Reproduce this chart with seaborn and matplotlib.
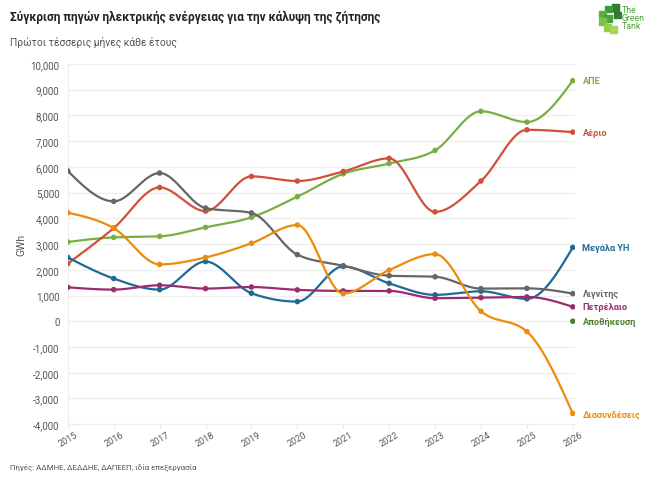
import numpy as np
import pandas as pd
import matplotlib
matplotlib.use("Agg")
import matplotlib.pyplot as plt
import seaborn as sns

years = list(range(2015, 2027))

lignite = [5840, 4660, 5760, 4400, 4210, 2590, 2160, 1770, 1730, 1270, 1280, 1075]
gas = [2240, 3620, 5200, 4280, 5630, 5450, 5820, 6330, 4250, 5450, 7440, 7350]
res = [3080, 3260, 3300, 3650, 4040, 4840, 5730, 6130, 6640, 8160, 7740, 9350]
interconn = [4220, 3620, 2210, 2480, 3030, 3740, 1075, 1990, 2610, 390, -400, -3580]
hydro = [2480, 1660, 1230, 2320, 1090, 765, 2130, 1475, 1025, 1165, 870, 2870]
oil = [1320, 1230, 1400, 1270, 1330, 1220, 1180, 1180, 895, 920, 945, 560]
storage_year = [2026]
storage = [0]

series = [
    ("ΑΠΕ", res, "#76b043"),
    ("Αέριο", gas, "#d2503a"),
    ("Μεγάλα ΥΗ", hydro, "#1d6a98"),
    ("Λιγνίτης", lignite, "#666666"),
    ("Πετρέλαιο", oil, "#9a2d6e"),
    ("Διασυνδέσεις", interconn, "#ec8b0d"),
]
storage_color = "#4d7f2f"


def monotone_curve(x, y, n=30):
    # monotone cubic (like d3.curveMonotoneX), only used to draw the line
    x = np.asarray(x, float)
    y = np.asarray(y, float)
    h = np.diff(x)
    s = np.diff(y) / h
    t = np.zeros(len(x))
    for i in range(1, len(x) - 1):
        p = (s[i - 1] * h[i] + s[i] * h[i - 1]) / (h[i - 1] + h[i])
        t[i] = (np.sign(s[i - 1]) + np.sign(s[i])) * min(abs(s[i - 1]), abs(s[i]), 0.5 * abs(p))
    t[0] = (3 * s[0] - t[1]) / 2
    t[-1] = (3 * s[-1] - t[-2]) / 2
    xs, ys = [], []
    for i in range(len(x) - 1):
        u = np.linspace(0, 1, n, endpoint=(i == len(x) - 2))
        h00 = 2 * u**3 - 3 * u**2 + 1
        h10 = u**3 - 2 * u**2 + u
        h01 = -2 * u**3 + 3 * u**2
        h11 = u**3 - u**2
        xs.append(x[i] + u * h[i])
        ys.append(h00 * y[i] + h10 * h[i] * t[i] + h01 * y[i + 1] + h11 * h[i] * t[i + 1])
    return np.concatenate(xs), np.concatenate(ys)


sns.set_style("white")
plt.rcParams["font.family"] = ["Roboto", "DejaVu Sans"]

fig = plt.figure(figsize=(6.52, 4.81), dpi=100)
ax = fig.add_axes([0.104, 0.116, 0.778, 0.749])

for name, vals, color in series:
    cx, cy = monotone_curve(years, vals)
    curve = pd.DataFrame({"x": cx, "y": cy})
    sns.lineplot(data=curve, x="x", y="y", sort=False, color=color, linewidth=1.6, ax=ax)
    pts = pd.DataFrame({"x": years, "y": vals})
    sns.scatterplot(data=pts, x="x", y="y", color=color, s=16, edgecolor="none", ax=ax, zorder=3)
    ax.annotate(name, (years[-1], vals[-1]), xytext=(7, 0), textcoords="offset points",
                va="center", ha="left", fontsize=6.6, fontweight="bold", color=color,
                annotation_clip=False)

st = pd.DataFrame({"x": storage_year, "y": storage})
sns.scatterplot(data=st, x="x", y="y", color=storage_color, s=16, edgecolor="none", ax=ax, zorder=3)
ax.annotate("Αποθήκευση", (storage_year[0], storage[0]), xytext=(7, 0), textcoords="offset points",
            va="center", ha="left", fontsize=6.6, fontweight="bold", color=storage_color,
            annotation_clip=False)

ax.set_xlim(2015, 2026.05)
ax.set_ylim(-4000, 10000)
ax.set_yticks(range(-4000, 10001, 1000))
ax.set_yticklabels([f"{v:,}" for v in range(-4000, 10001, 1000)])
ax.set_xticks(years)
ax.set_xticklabels([str(y) for y in years], rotation=30, ha="center")
ax.tick_params(axis="y", labelsize=7, colors="#555555", length=0, pad=6)
ax.tick_params(axis="x", labelsize=6.5, colors="#555555", length=3, width=0.6,
               bottom=True, pad=1)
ax.tick_params(axis="x", color="#dddddd")
ax.grid(axis="y", color="#eeeeee", linewidth=0.9)
for side in ["top", "right"]:
    ax.spines[side].set_visible(False)
ax.spines["left"].set_color("#eeeeee")
ax.spines["bottom"].set_color("#eeeeee")
ax.set_xlabel("")
ax.set_ylabel("GWh", fontsize=7.5, color="#555555", labelpad=3)
ax.set_axisbelow(True)

fig.text(0.015, 0.963, "Σύγκριση πηγών ηλεκτρικής ενέργειας για την κάλυψη της ζήτησης",
         fontsize=8.6, fontweight="bold", color="#222222", va="center")
fig.text(0.015, 0.912, "Πρώτοι τέσσερις μήνες κάθε έτους", fontsize=7.4, color="#555555",
         va="center")
fig.text(0.015, 0.028, "Πηγές: ΑΔΜΗΕ, ΔΕΔΔΗΕ, ΔΑΠΕΕΠ, ιδία επεξεργασία", fontsize=5.7,
         color="#555555", va="center")

# logo: "The Green Tank"
fig.text(0.953, 0.962, "The\nGreen\nTank", fontsize=6.3, color="#4aa33a", va="center",
         ha="left", linespacing=0.85)
logo_sq = [(0.938, 0.975, "#2e7d32"), (0.928, 0.972, "#3f9a3a"), (0.919, 0.962, "#5cb03c"),
           (0.927, 0.952, "#4aa33a"), (0.918, 0.946, "#7cc24a"), (0.926, 0.934, "#8fcf4a"),
           (0.936, 0.930, "#a6d65a"), (0.941, 0.960, "#2e7d32")]
for x0, y0, c in logo_sq:
    fig.patches.append(plt.Rectangle((x0, y0), 0.011, 0.014, transform=fig.transFigure, color=c))

fig.savefig("out.png", dpi=100)
